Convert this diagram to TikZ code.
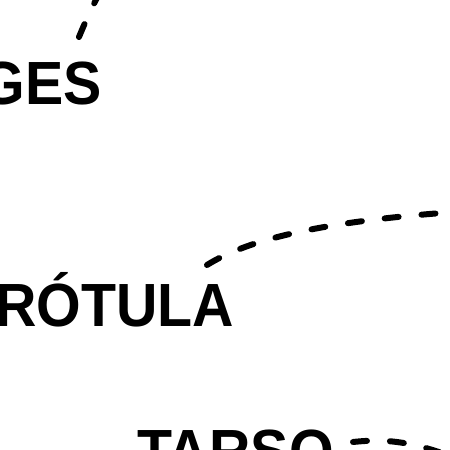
\documentclass[tikz,border=0pt]{standalone}
\usepackage{fontspec}
\setmainfont{Liberation Sans}[FakeStretch=0.94]
\begin{document}
\begin{tikzpicture}[x=1pt,y=-1pt,
  lbl/.style={inner sep=0pt, font=\fontsize{61}{61}\selectfont\bfseries},
  lead/.style={line width=6pt, line cap=round, dash pattern=on 14pt off 23pt}]
\useasboundingbox (0,0) rectangle (450,450);
\fill[white] (0,0) rectangle (450,450);
\node[lbl, anchor=base east] (ges) at (102,104) {GES};
\node[lbl, anchor=base west] (rotula) at (-5,326) {RÓTULA};
\node[lbl, anchor=base west] (tarso) at (137,472) {TARSO};
\coordinate (gesA) at (79,37);
\coordinate (gesB) at (112,-30);
\coordinate (rotA) at (207,265);
\coordinate (rotB) at (470,211);
\coordinate (tarA) at (353,442);
\coordinate (tarB) at (480,468);
\draw[lead] (gesA) .. controls (86,20) and (95,0) .. (gesB);
\draw[lead] (rotA) .. controls (250,238) and (330,220) .. (rotB);
\draw[lead] (tarA) .. controls (390,438) and (420,442) .. (tarB);
\end{tikzpicture}
\end{document}
